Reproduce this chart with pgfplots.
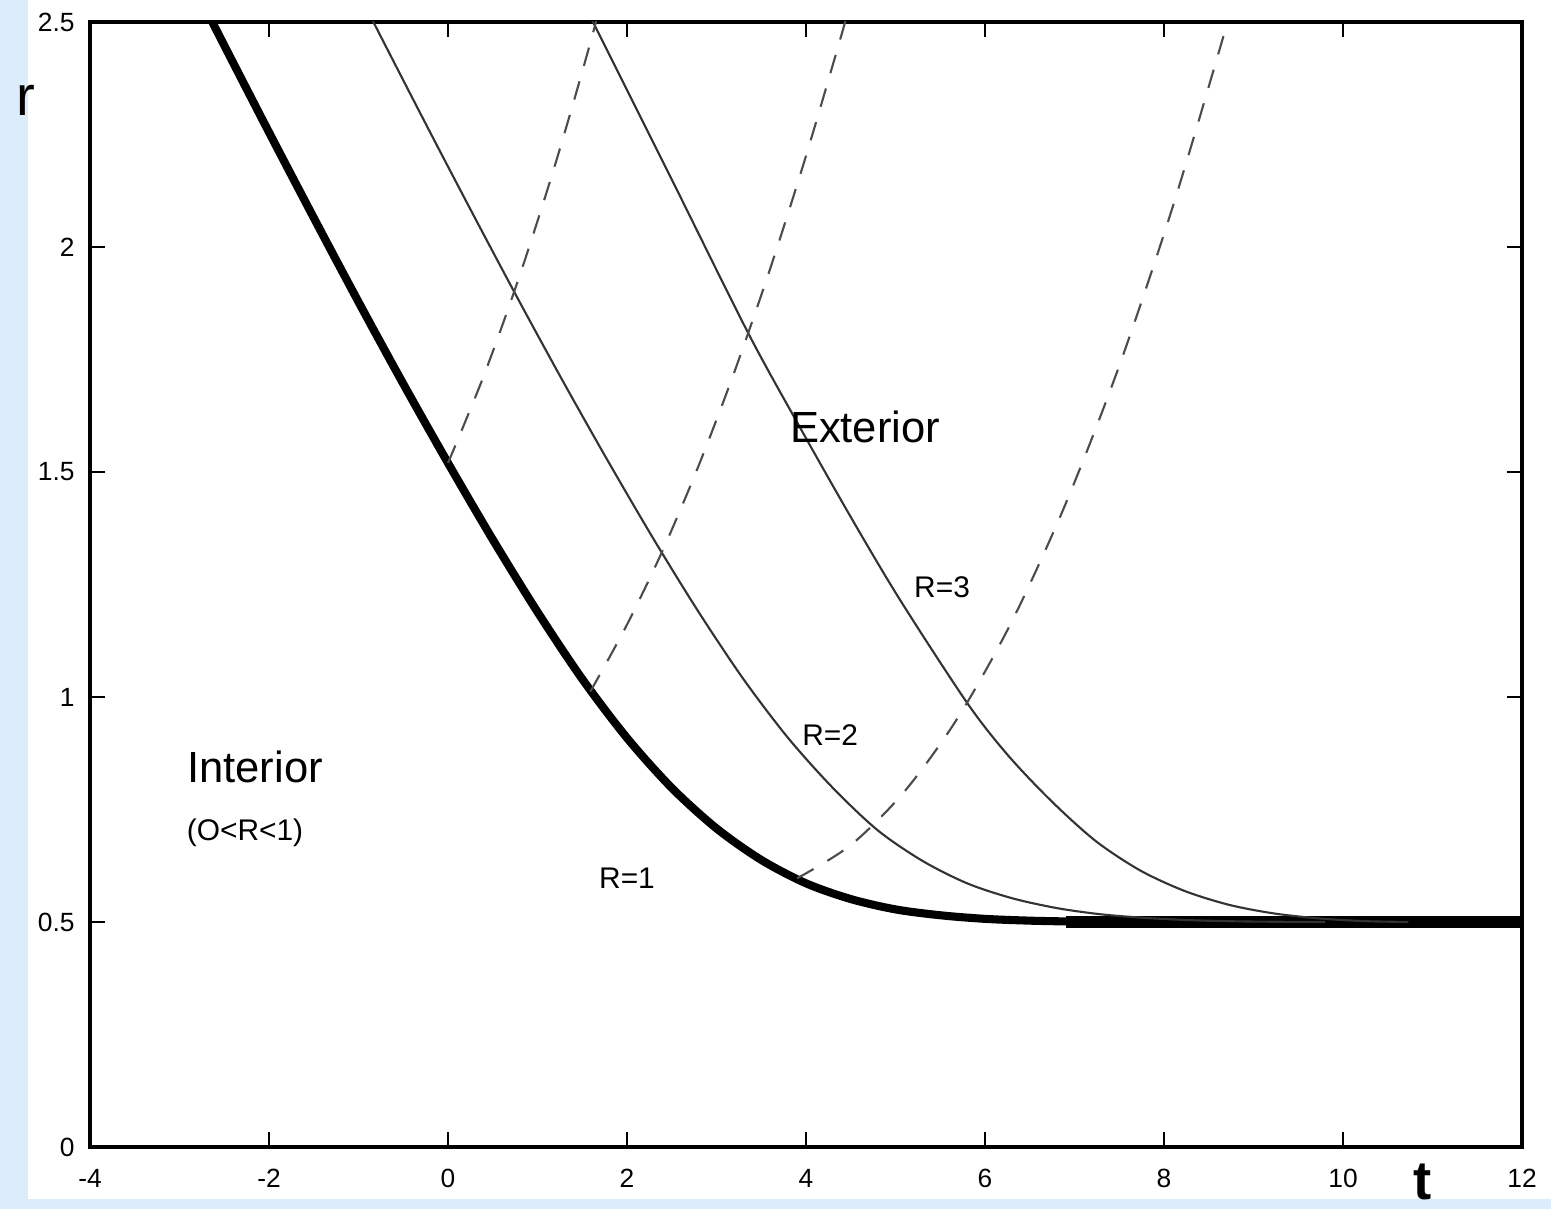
\documentclass[border=0pt]{standalone}
\usepackage{fontspec}
\setmainfont{Liberation Sans}
\usepackage{pgfplots}
\pgfplotsset{compat=1.18}
\definecolor{skyback}{RGB}{220,236,251}

\begin{document}
\begin{tikzpicture}
% slide background and white panel
\fill[skyback] (-0.90,-0.62) rectangle (14.61,11.47);
\fill[white] (-0.62,-0.52) rectangle (14.61,11.47);
\begin{axis}[
  at={(0,0)}, anchor=south west,
  scale only axis, width=14.32cm, height=11.25cm,
  xmin=-4, xmax=12, ymin=0, ymax=2.5,
  xtick={-4,-2,0,2,4,6,8,10,12},
  xticklabels={-4,-2,0,2,4,6,8,10,12},
  ytick={0,0.5,1,1.5,2,2.5},
  yticklabels={0,0.5,1,1.5,2,2.5},
  tick align=inside, major tick length=0.15cm,
  axis line style={line width=0.9pt},
  every tick/.style={black, line width=0.7pt},
  tick label style={font=\fontsize{7.5}{9}\selectfont},
  xticklabel style={yshift=-0.1cm},
  yticklabel style={xshift=-0.03cm},
  thinline/.style={black!80, line width=0.6pt, smooth},
  dashline/.style={black!70, line width=0.6pt, dash pattern=on 0.19cm off 0.16cm, smooth},
]
% R=1 (boundary)
\addplot[black, line width=2.3pt, smooth] coordinates {
 (-3.0,2.643) (-2.5,2.448) (-2.0,2.255) (-1.5,2.065) (-1.0,1.878) (-0.5,1.696)
 (0,1.52) (0.5,1.350) (1.0,1.189) (1.5,1.040) (2.0,0.909) (2.5,0.798)
 (3.0,0.708) (3.5,0.638) (4.0,0.586) (4.5,0.551) (5.0,0.528) (5.5,0.515)
 (6.0,0.507) (6.5,0.503) (7.0,0.501) (7.5,0.5)};
\addplot[black, line width=3.6pt] coordinates {(6.9,0.5) (12.2,0.5)};
% R=2
\addplot[thinline] coordinates {
 (-1.2,2.643) (-0.7,2.448) (-0.2,2.255) (0.3,2.065) (0.8,1.878) (1.3,1.696)
 (1.8,1.52) (2.3,1.350) (2.8,1.189) (3.3,1.040) (3.8,0.909) (4.3,0.798)
 (4.8,0.704) (5.3,0.636) (5.8,0.586) (6.3,0.553) (6.8,0.531) (7.3,0.517)
 (7.8,0.509) (8.3,0.504) (8.8,0.5015) (9.3,0.5005) (9.8,0.5)};
% R=3
\addplot[thinline] coordinates {
 (1.45,2.568) (1.62,2.5) (2.5,2.150) (3.356,1.808) (3.93,1.60) (4.5,1.40)
 (5.05,1.216) (5.8,0.987) (6.25,0.872) (6.73,0.771) (7.23,0.681) (7.73,0.615)
 (8.23,0.569) (8.73,0.538) (9.23,0.519) (9.73,0.508) (10.23,0.502)
 (10.73,0.5)};
% dashed curves
\addplot[dashline] coordinates {
 (0,1.52) (0.4,1.714) (0.8,1.936) (1.2,2.185) (1.6,2.461) (2.0,2.764)};
\addplot[dashline] coordinates {
 (1.59,1.012) (1.99,1.157) (2.39,1.322) (2.79,1.509) (3.19,1.717)
 (3.59,1.946) (3.99,2.196) (4.39,2.467) (4.59,2.611)};
\addplot[dashline] coordinates {
 (3.9,0.597) (4.5,0.671) (5.1,0.790) (5.7,0.955) (6.3,1.168) (6.9,1.429)
 (7.5,1.736) (8.1,2.091) (8.7,2.493) (8.9,2.637)};
% labels
\node[font=\fontsize{12.4}{14}\selectfont] at (axis cs:-2.156,0.844) {Interior};
\node[font=\fontsize{8.5}{10}\selectfont] at (axis cs:-2.268,0.698) {(O<R<1)};
\node[font=\fontsize{12.4}{14}\selectfont] at (axis cs:4.66,1.60) {Exterior};
\node[font=\fontsize{8.5}{10}\selectfont] at (axis cs:5.52,1.244) {R=3};
\node[font=\fontsize{8.5}{10}\selectfont] at (axis cs:4.27,0.916) {R=2};
\node[font=\fontsize{8.5}{10}\selectfont] at (axis cs:2.0,0.598) {R=1};
\end{axis}
\node[font=\fontsize{16}{18}\selectfont] at (-0.64,10.47) {r};
\node[font=\fontsize{15.5}{18}\selectfont\bfseries, anchor=north, inner sep=0pt] at (13.33,-0.16) {t};
\pgfresetboundingbox
\path[use as bounding box] (-0.90,-0.62) rectangle (14.61,11.47);
\end{tikzpicture}
\end{document}
